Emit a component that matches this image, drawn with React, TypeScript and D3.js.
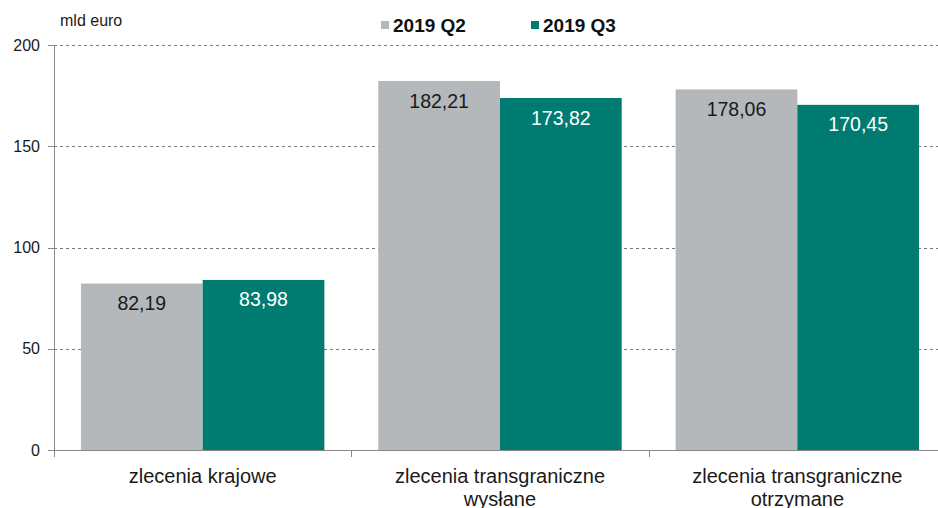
import React from "react";
import * as d3 from "d3";

const categories: string[][] = [
  ["zlecenia krajowe"],
  ["zlecenia transgraniczne", "wysłane"],
  ["zlecenia transgraniczne", "otrzymane"],
];
const seriesNames = ["2019 Q2", "2019 Q3"];
const q2Values = [82.19, 182.21, 178.06];
const q3Values = [83.98, 173.82, 170.45];
const yTicks = [0, 50, 100, 150, 200];
const unitLabel = "mld euro";

const colors = ["#b4b8bb", "#007b72"];
const labelColors = ["#1a1a1a", "#ffffff"];
const FONT = "'Liberation Sans', Arial, sans-serif";

export default function App() {
  const W = 938;
  const H = 508;
  const left = 54;
  const right = 946;
  const top = 45;
  const bottom = 450;

  const keys = categories.map((_, i) => String(i));
  const x = d3.scaleBand<string>().domain(keys).range([left, right]).paddingInner(0).paddingOuter(0);
  const xs = d3
    .scaleBand<string>()
    .domain(seriesNames)
    .range([0, x.bandwidth()])
    .paddingInner(0)
    .paddingOuter(0.2215);
  const y = d3.scaleLinear().domain([0, 200]).range([bottom, top]);
  const locale = d3.formatLocale({ decimal: ",", thousands: " ", grouping: [3], currency: ["", "€"] });
  const fmt = locale.format(".2f");
  const series = [q2Values, q3Values];

  return (
    <div style={{ position: "fixed", left: 0, top: 0 }}>
      <svg width={W} height={H} style={{ display: "block", background: "#fff" }} fontFamily={FONT}>
        {/* grid */}
        {yTicks.filter((t) => t > 0).map((t) => (
          <line
            key={"g" + t}
            x1={left}
            x2={W}
            y1={Math.round(y(t)) + 0.5}
            y2={Math.round(y(t)) + 0.5}
            stroke="#7a7a7a"
            strokeWidth={1}
            strokeDasharray="3,3"
          />
        ))}
        {/* bars */}
        {keys.map((k, i) =>
          seriesNames.map((s, j) => {
            const v = series[j][i];
            const bx = (x(k) as number) + (xs(s) as number);
            const by = y(v);
            return (
              <g key={k + s}>
                <rect x={bx} y={by} width={xs.bandwidth()} height={bottom - by} fill={colors[j]} />
                <text
                  x={bx + xs.bandwidth() / 2}
                  y={by + 26.5}
                  textAnchor="middle"
                  fontSize={19.5}
                  fill={labelColors[j]}
                >
                  {fmt(v)}
                </text>
              </g>
            );
          })
        )}
        {/* y axis */}
        <line x1={left + 0.5} x2={left + 0.5} y1={top} y2={bottom + 7} stroke="#888" strokeWidth={1} />
        {yTicks.map((t) => (
          <g key={"t" + t}>
            <line
              x1={left - 6}
              x2={left}
              y1={Math.round(y(t)) + 0.5}
              y2={Math.round(y(t)) + 0.5}
              stroke="#888"
            />
            <text x={40} y={y(t) + 5.5} textAnchor="end" fontSize={16} fill="#1a1a1a">
              {t}
            </text>
          </g>
        ))}
        {/* x axis */}
        <line x1={left} x2={W} y1={bottom + 0.5} y2={bottom + 0.5} stroke="#888" strokeWidth={1} />
        {keys.slice(1).map((k) => (
          <line
            key={"xt" + k}
            x1={Math.round(x(k) as number) + 0.5}
            x2={Math.round(x(k) as number) + 0.5}
            y1={bottom}
            y2={bottom + 7}
            stroke="#888"
          />
        ))}
        {keys.map((k, i) => (
          <text
            key={"c" + k}
            x={(x(k) as number) + x.bandwidth() / 2}
            y={483}
            textAnchor="middle"
            fontSize={20}
            fill="#1a1a1a"
          >
            {categories[i].map((line, li) => (
              <tspan key={li} x={(x(k) as number) + x.bandwidth() / 2} dy={li === 0 ? 0 : 23}>
                {line}
              </tspan>
            ))}
          </text>
        ))}
        {/* unit label */}
        <text x={60} y={26.3} fontSize={16} fill="#1a1a1a">
          {unitLabel}
        </text>
        {/* legend */}
        {seriesNames.map((s, j) => {
          const lx = 381 + j * 150;
          return (
            <g key={"l" + s}>
              <rect x={lx} y={21} width={8} height={8} fill={colors[j]} />
              <text x={lx + 12} y={32} fontSize={19} fontWeight="bold" fill="#111">
                {s}
              </text>
            </g>
          );
        })}
      </svg>
    </div>
  );
}
